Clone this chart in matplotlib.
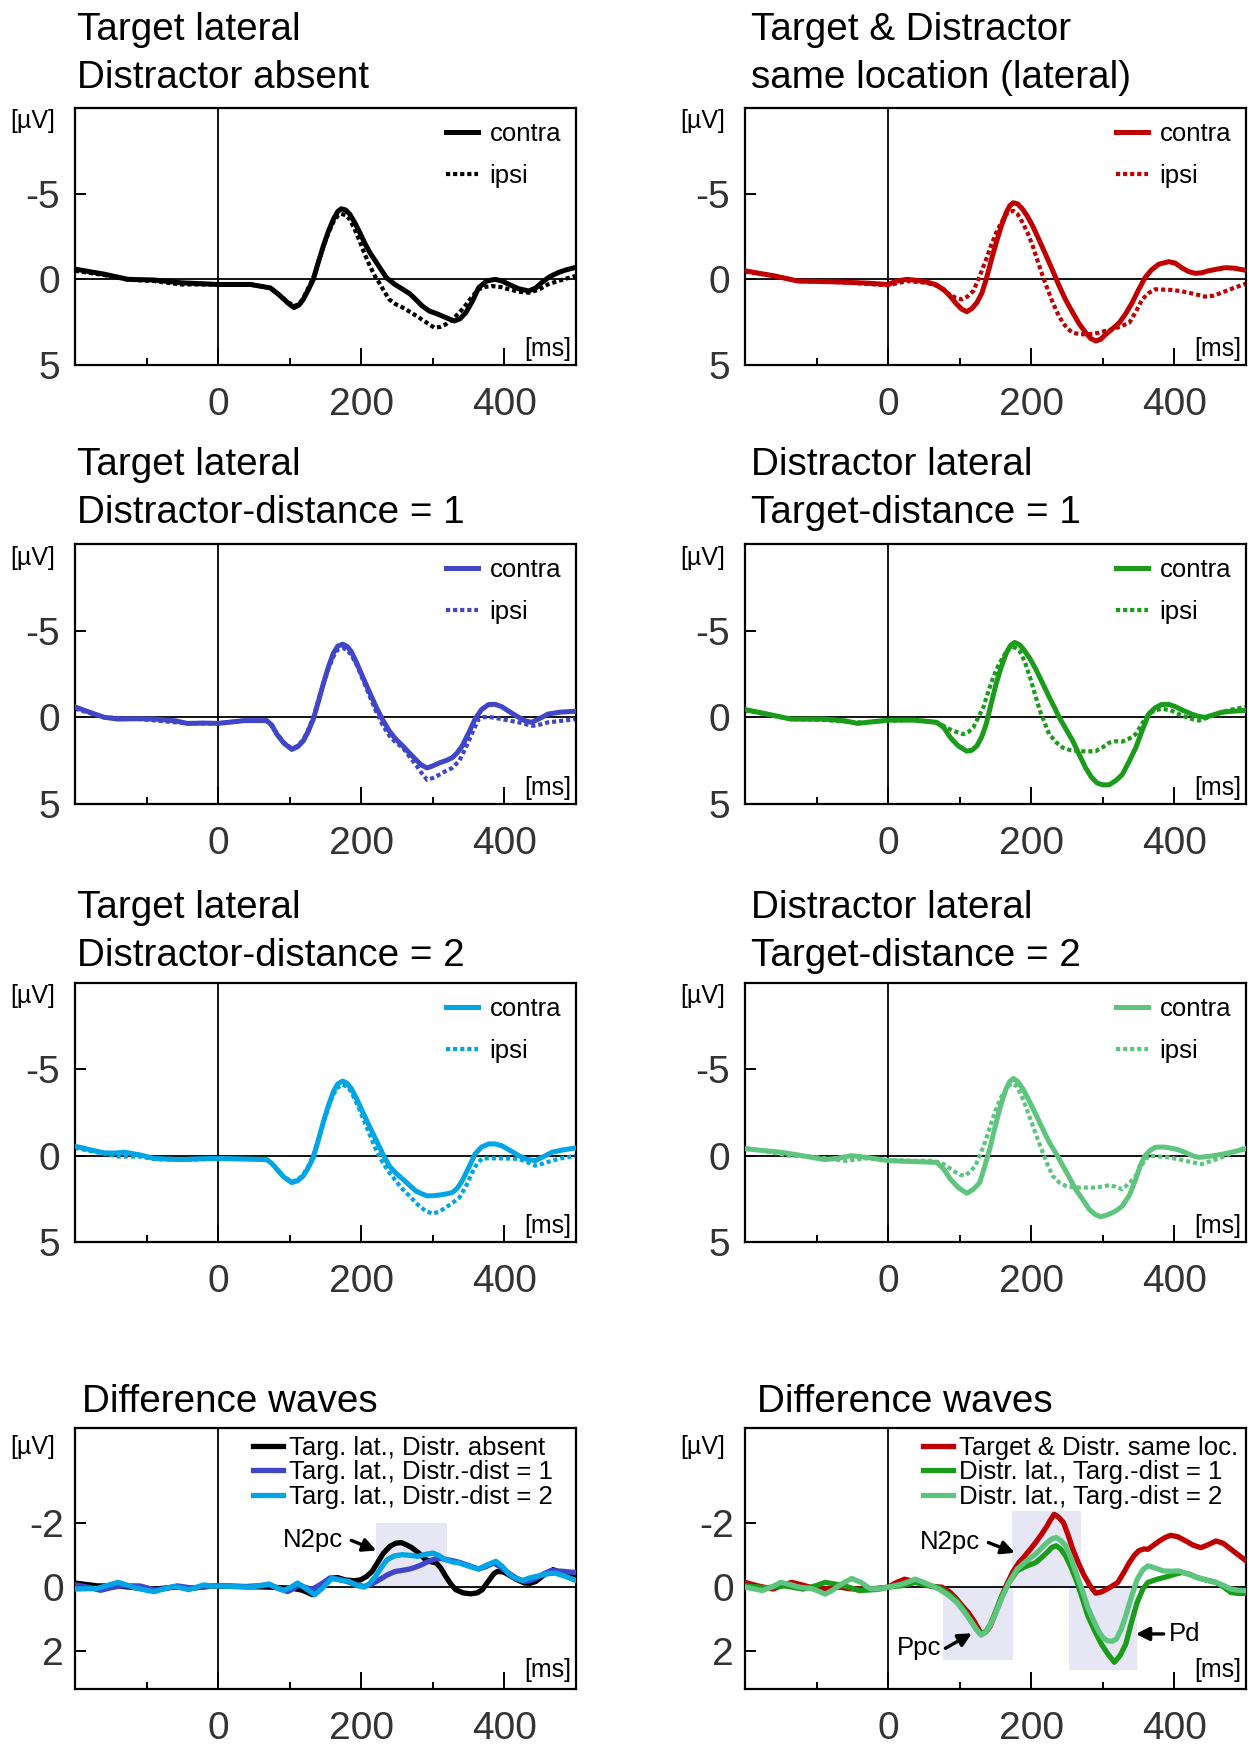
import numpy as np
import matplotlib.pyplot as plt

plt.rcParams['font.family'] = ['Liberation Sans', 'DejaVu Sans']
plt.rcParams['axes.unicode_minus'] = False

# ---- grand averages: (time in ms, amplitude in µV) ----
absent_contra = [(-200, -0.6), (-180, -0.45), (-159, -0.3), (-126, 0.0), (-89, 0.04), (-52, 0.2), (0, 0.3),
                 (45, 0.3), (73, 0.5), (85, 0.9), (98, 1.4), (106, 1.65), (113, 1.5), (119, 1.17), (126, 0.6),
                 (133, 0.0), (140, -1.0), (147, -1.95), (154, -2.8), (161, -3.5), (167, -3.95), (172, -4.12),
                 (178, -4.05), (184, -3.8), (191, -3.3), (198, -2.72), (205, -2.1), (212, -1.56), (224, -0.8),
                 (235, -0.1), (247, 0.3), (258, 0.58), (268, 0.85), (276, 1.17), (285, 1.55), (295, 1.85),
                 (305, 2.0), (313, 2.14), (322, 2.3), (330, 2.43), (338, 2.3), (346, 1.95), (355, 1.3),
                 (364, 0.49), (375, 0.1), (387, 0.0), (397, 0.1), (406, 0.29), (420, 0.55), (434, 0.68),
                 (444, 0.5), (452, 0.19), (463, -0.15), (475, -0.39), (486, -0.55), (500, -0.7)]
absent_ipsi = [(-200, -0.5), (-159, -0.25), (-126, 0.02), (-89, 0.1), (-52, 0.3), (0, 0.3), (45, 0.3),
               (73, 0.5), (85, 0.9), (98, 1.35), (106, 1.56), (113, 1.45), (119, 1.1), (126, 0.5), (133, -0.1),
               (140, -1.0), (147, -1.9), (154, -2.7), (161, -3.35), (167, -3.7), (172, -3.82), (178, -3.75),
               (184, -3.5), (191, -2.9), (198, -2.2), (205, -1.45), (212, -0.78), (219, -0.2), (225, 0.2),
               (232, 0.7), (239, 1.17), (248, 1.45), (258, 1.65), (270, 1.95), (281, 2.24), (292, 2.55),
               (302, 2.82), (310, 2.78), (318, 2.63), (328, 2.3), (337, 1.95), (346, 1.5), (355, 1.0),
               (364, 0.58), (372, 0.45), (382, 0.39), (395, 0.45), (406, 0.58), (420, 0.72), (434, 0.78),
               (448, 0.6), (461, 0.29), (475, 0.1), (487, -0.05), (500, -0.2)]

same_contra = [(-200, -0.5), (-180, -0.35), (-159, -0.2), (-126, 0.1), (-100, 0.12), (-66, 0.16), (-30, 0.22),
               (0, 0.3), (12, 0.1), (26, 0.0), (40, 0.06), (54, 0.16), (66, 0.3), (77, 0.58), (87, 1.0),
               (96, 1.46), (103, 1.75), (110, 1.89), (117, 1.7), (124, 1.36), (131, 0.8), (137, 0.0),
               (144, -1.1), (151, -2.14), (158, -3.1), (165, -3.89), (170, -4.3), (175, -4.47), (181, -4.4),
               (188, -4.09), (195, -3.65), (202, -3.11), (212, -2.2), (221, -1.36), (230, -0.5), (239, 0.39),
               (248, 1.2), (258, 1.95), (267, 2.6), (276, 3.11), (283, 3.45), (290, 3.6), (297, 3.5),
               (304, 3.21), (313, 2.9), (323, 2.53), (332, 2.0), (341, 1.36), (350, 0.6), (359, -0.1),
               (368, -0.55), (378, -0.88), (392, -1.03), (401, -0.95), (410, -0.68), (420, -0.45),
               (429, -0.35), (438, -0.38), (447, -0.49), (460, -0.6), (471, -0.68), (484, -0.65), (500, -0.52)]
same_ipsi = [(-200, -0.45), (-159, -0.2), (-126, 0.1), (-66, 0.16), (0, 0.35), (26, 0.1), (54, 0.2), (70, 0.4),
             (82, 0.78), (93, 1.05), (103, 1.17), (111, 1.0), (119, 0.68), (128, -0.2), (137, -1.17),
             (144, -2.0), (151, -2.72), (158, -3.3), (165, -3.8), (170, -3.95), (175, -3.99), (181, -3.8),
             (188, -3.3), (195, -2.7), (202, -1.95), (209, -1.05), (216, -0.19), (223, 0.6), (230, 1.36),
             (237, 2.0), (244, 2.53), (251, 2.9), (258, 3.11), (267, 3.2), (276, 3.21), (286, 3.18),
             (295, 3.11), (304, 3.0), (313, 2.92), (325, 2.75), (337, 2.53), (346, 1.9), (355, 1.17),
             (364, 0.8), (373, 0.58), (384, 0.6), (396, 0.62), (408, 0.68), (420, 0.78), (432, 0.9),
             (443, 1.01), (455, 0.95), (466, 0.78), (480, 0.55), (500, 0.25)]

tdist1_contra = [(-200, -0.6), (-180, -0.3), (-159, 0.0), (-140, 0.1), (-110, 0.08), (-89, 0.1), (-60, 0.2),
                 (-43, 0.35), (-20, 0.33), (0, 0.35), (36, 0.19), (68, 0.19), (75, 0.45), (82, 0.97),
                 (92, 1.5), (103, 1.85), (111, 1.7), (119, 1.36), (126, 0.8), (133, 0.1), (140, -0.9),
                 (147, -1.95), (154, -2.9), (161, -3.7), (167, -4.1), (174, -4.22), (180, -4.1), (186, -3.8),
                 (194, -3.1), (202, -2.33), (212, -1.4), (221, -0.58), (230, 0.15), (239, 0.78), (248, 1.25),
                 (258, 1.65), (267, 2.05), (276, 2.43), (284, 2.75), (292, 2.92), (300, 2.8), (309, 2.63),
                 (318, 2.5), (327, 2.33), (334, 2.05), (341, 1.65), (350, 0.9), (359, 0.1), (368, -0.45),
                 (378, -0.74), (387, -0.75), (396, -0.62), (408, -0.3), (420, 0.0), (429, 0.2), (438, 0.29),
                 (450, 0.05), (461, -0.19), (478, -0.3), (500, -0.35)]
tdist1_ipsi = [(-200, -0.5), (-159, 0.0), (-110, 0.1), (-43, 0.35), (0, 0.35), (36, 0.2), (68, 0.2), (75, 0.5),
               (82, 0.95), (92, 1.45), (103, 1.8), (111, 1.65), (119, 1.3), (126, 0.7), (133, 0.0),
               (140, -1.0), (147, -1.9), (154, -2.8), (161, -3.5), (167, -3.9), (174, -3.99), (180, -3.9),
               (186, -3.6), (194, -3.0), (202, -2.2), (212, -1.2), (221, -0.3), (230, 0.45), (239, 1.05),
               (248, 1.45), (258, 1.75), (267, 2.25), (276, 2.72), (284, 3.2), (292, 3.6), (300, 3.5),
               (309, 3.31), (318, 3.1), (327, 2.92), (337, 2.5), (346, 1.75), (355, 0.9), (364, 0.1),
               (372, -0.02), (382, 0.0), (396, 0.1), (408, 0.2), (420, 0.29), (430, 0.4), (440, 0.49),
               (452, 0.4), (461, 0.29), (480, 0.2), (500, 0.1)]

ddist1_contra = [(-200, -0.45), (-170, -0.2), (-136, 0.1), (-89, 0.1), (-60, 0.2), (-43, 0.35), (-20, 0.25),
                 (0, 0.16), (36, 0.16), (68, 0.29), (78, 0.6), (87, 1.17), (98, 1.65), (110, 1.95), (117, 1.9),
                 (124, 1.65), (131, 1.1), (137, 0.39), (144, -0.8), (151, -1.95), (158, -2.9), (165, -3.7),
                 (171, -4.15), (177, -4.32), (183, -4.2), (188, -3.99), (198, -3.4), (207, -2.72), (216, -1.95),
                 (225, -1.17), (232, -0.6), (239, 0.0), (248, 0.65), (258, 1.36), (267, 2.15), (276, 2.92),
                 (284, 3.45), (292, 3.79), (300, 3.9), (309, 3.89), (318, 3.65), (327, 3.31), (336, 2.6),
                 (346, 1.75), (355, 0.75), (364, -0.19), (373, -0.55), (382, -0.74), (392, -0.75),
                 (401, -0.62), (412, -0.4), (424, -0.19), (434, -0.05), (443, 0.0), (455, -0.15),
                 (466, -0.29), (480, -0.35), (500, -0.4)]
ddist1_ipsi = [(-200, -0.4), (-136, 0.1), (-89, 0.15), (-43, 0.3), (0, 0.2), (36, 0.15), (60, 0.25), (73, 0.39),
               (82, 0.6), (91, 0.78), (105, 0.97), (112, 0.85), (119, 0.58), (126, 0.0), (133, -0.58),
               (140, -1.5), (147, -2.33), (154, -3.0), (161, -3.5), (167, -3.9), (172, -4.09), (178, -4.0),
               (184, -3.8), (191, -3.2), (198, -2.33), (205, -1.35), (212, -0.39), (219, 0.35), (225, 0.97),
               (235, 1.45), (244, 1.75), (255, 1.9), (267, 1.95), (278, 1.97), (290, 1.95), (300, 1.72),
               (309, 1.46), (318, 1.38), (327, 1.4), (336, 1.25), (346, 0.97), (355, 0.35), (364, -0.19),
               (373, -0.4), (382, -0.49), (394, -0.42), (406, -0.19), (420, 0.05), (434, 0.19), (448, 0.0),
               (461, -0.23), (480, -0.45), (500, -0.6)]

tdist2_contra = [(-200, -0.55), (-180, -0.35), (-159, -0.16), (-145, -0.15), (-131, -0.2), (-110, -0.05),
                 (-89, 0.16), (-70, 0.2), (-52, 0.23), (-25, 0.18), (0, 0.16), (40, 0.2), (68, 0.23), (75, 0.45),
                 (82, 0.78), (92, 1.25), (103, 1.56), (111, 1.45), (119, 1.17), (126, 0.7), (133, 0.1),
                 (140, -0.9), (147, -1.95), (154, -2.9), (161, -3.7), (167, -4.15), (174, -4.32), (180, -4.2),
                 (186, -3.89), (194, -3.25), (202, -2.53), (212, -1.65), (221, -0.88), (230, -0.1), (239, 0.58),
                 (248, 1.0), (258, 1.36), (267, 1.7), (276, 2.04), (284, 2.2), (292, 2.33), (300, 2.32),
                 (309, 2.28), (318, 2.22), (327, 2.14), (334, 1.9), (341, 1.46), (350, 0.7), (359, -0.1),
                 (368, -0.5), (378, -0.68), (387, -0.68), (396, -0.58), (408, -0.3), (420, 0.0), (430, 0.2),
                 (443, 0.29), (455, 0.05), (466, -0.19), (480, -0.32), (500, -0.45)]
tdist2_ipsi = [(-200, -0.45), (-170, -0.2), (-140, 0.05), (-110, 0.05), (-89, 0.2), (-52, 0.25), (0, 0.18),
               (40, 0.2), (68, 0.25), (75, 0.45), (82, 0.78), (92, 1.25), (103, 1.5), (111, 1.4), (119, 1.1),
               (126, 0.6), (133, 0.0), (140, -0.95), (147, -1.9), (154, -2.8), (161, -3.55), (167, -3.95),
               (174, -4.1), (180, -4.0), (186, -3.7), (194, -3.0), (202, -2.2), (212, -1.2), (221, -0.3),
               (230, 0.4), (239, 0.97), (248, 1.45), (258, 1.95), (270, 2.45), (281, 2.92), (290, 3.2),
               (299, 3.35), (309, 3.25), (318, 3.0), (327, 2.75), (337, 2.43), (346, 1.8), (355, 0.97),
               (362, 0.45), (369, 0.16), (382, 0.15), (396, 0.16), (408, 0.17), (420, 0.19), (432, 0.38),
               (443, 0.58), (455, 0.45), (466, 0.29), (480, 0.15), (500, 0.0)]

ddist2_contra = [(-200, -0.4), (-175, -0.3), (-150, -0.2), (-120, 0.0), (-89, 0.23), (-70, 0.15), (-52, 0.0),
                 (-30, 0.1), (0, 0.29), (40, 0.35), (68, 0.39), (78, 0.8), (87, 1.36), (98, 1.85), (110, 2.18),
                 (119, 1.95), (128, 1.56), (135, 0.6), (142, -0.39), (149, -1.6), (156, -2.72), (161, -3.4),
                 (165, -3.89), (170, -4.3), (175, -4.47), (181, -4.3), (188, -3.89), (198, -3.1), (207, -2.33),
                 (216, -1.55), (225, -0.78), (235, -0.1), (244, 0.58), (253, 1.25), (262, 1.95), (272, 2.55),
                 (281, 3.11), (289, 3.4), (297, 3.54), (305, 3.45), (313, 3.31), (320, 3.15), (327, 2.92),
                 (337, 2.3), (346, 1.36), (352, 0.6), (359, 0.0), (366, -0.3), (373, -0.49), (385, -0.5),
                 (396, -0.43), (405, -0.35), (415, -0.19), (425, 0.0), (434, 0.1), (447, 0.05), (461, -0.04),
                 (480, -0.2), (500, -0.4)]
ddist2_ipsi = [(-200, -0.45), (-170, -0.25), (-140, 0.0), (-110, 0.05), (-89, 0.15), (-60, 0.3), (-30, 0.15),
               (0, 0.25), (40, 0.3), (60, 0.3), (73, 0.39), (82, 0.6), (91, 0.88), (100, 1.1), (107, 1.17),
               (114, 0.95), (122, 0.58), (130, -0.2), (137, -0.97), (144, -1.9), (151, -2.72), (158, -3.4),
               (165, -3.89), (170, -4.1), (174, -4.18), (180, -4.0), (188, -3.31), (195, -2.55), (202, -1.75),
               (209, -0.95), (216, -0.19), (223, 0.55), (230, 1.17), (239, 1.55), (248, 1.75), (258, 1.82),
               (267, 1.85), (278, 1.85), (290, 1.85), (300, 1.78), (309, 1.71), (318, 1.8), (327, 1.95),
               (337, 1.6), (346, 1.17), (355, 0.5), (364, 0.0), (378, 0.05), (392, 0.1), (405, 0.2),
               (415, 0.29), (427, 0.4), (438, 0.49), (452, 0.3), (466, 0.1), (480, -0.15), (500, -0.5)]

# ---- contra minus ipsi difference waves ----
diff_absent = [(-200, -0.13), (-169, -0.04), (-142, -0.04), (-115, 0.02), (-89, 0.06), (-60, 0.0), (-36, 0.03),
               (-15, -0.02), (0, -0.04), (30, -0.02), (71, 0.0), (103, 0.03), (118, 0.1), (132, 0.24),
               (144, 0.05), (156, -0.28), (167, -0.3), (177, -0.23), (190, -0.2), (199, -0.23), (207, -0.33),
               (215, -0.49), (223, -0.78), (231, -1.07), (240, -1.28), (248, -1.38), (256, -1.4), (263, -1.33),
               (270, -1.25), (280, -1.08), (289, -0.88), (297, -0.8), (305, -0.76), (311, -0.6), (318, -0.34),
               (325, -0.1), (332, 0.08), (342, 0.18), (353, 0.21), (362, 0.18), (369, 0.08), (378, -0.2),
               (385, -0.42), (390, -0.49), (398, -0.48), (406, -0.39), (416, -0.25), (428, -0.13),
               (436, -0.12), (444, -0.18), (455, -0.38), (468, -0.55), (480, -0.45), (490, -0.35), (500, -0.28)]
diff_tdist1 = [(-200, -0.07), (-182, 0.0), (-164, 0.1), (-150, 0.02), (-135, -0.04), (-110, -0.04), (-89, 0.08),
               (-75, 0.05), (-57, -0.04), (-36, 0.03), (-15, -0.02), (0, -0.04), (39, -0.02), (71, -0.07),
               (85, 0.05), (97, 0.14), (105, 0.05), (113, -0.07), (123, 0.02), (132, 0.06), (144, -0.1),
               (156, -0.28), (167, -0.25), (177, -0.2), (190, -0.1), (204, -0.02), (215, -0.1), (225, -0.23),
               (236, -0.38), (247, -0.49), (258, -0.53), (268, -0.57), (276, -0.63), (284, -0.7), (293, -0.8),
               (302, -0.88), (311, -0.9), (321, -0.86), (330, -0.82), (337, -0.78), (350, -0.68), (364, -0.57),
               (375, -0.65), (385, -0.76), (395, -0.62), (406, -0.44), (417, -0.28), (428, -0.18), (436, -0.2),
               (444, -0.28), (455, -0.42), (465, -0.52), (480, -0.5), (500, -0.46)]
diff_tdist2 = [(-200, 0.06), (-169, 0.04), (-155, -0.05), (-140, -0.15), (-128, -0.07), (-116, 0.02), (-100, 0.1),
               (-89, 0.14), (-75, 0.05), (-62, -0.02), (-50, 0.03), (-41, 0.08), (-30, 0.0), (-20, -0.07),
               (-8, -0.03), (0, -0.04), (20, -0.02), (44, 0.0), (60, -0.05), (71, -0.1), (82, 0.02), (92, 0.1),
               (102, 0.0), (111, -0.13), (123, 0.05), (135, 0.24), (147, 0.0), (159, -0.28), (171, -0.22),
               (183, -0.18), (194, -0.05), (204, 0.0), (212, -0.12), (220, -0.34), (228, -0.62), (236, -0.86),
               (246, -0.98), (257, -1.02), (268, -1.0), (279, -0.97), (290, -1.03), (300, -1.07), (308, -1.0),
               (316, -0.88), (326, -0.8), (337, -0.76), (350, -0.66), (364, -0.57), (376, -0.7), (388, -0.81),
               (397, -0.65), (406, -0.42), (415, -0.28), (425, -0.21), (437, -0.3), (449, -0.36), (460, -0.42),
               (471, -0.44), (485, -0.34), (500, -0.21)]

diff_same = [(-200, -0.15), (-182, -0.04), (-161, 0.06), (-148, -0.05), (-135, -0.15), (-122, -0.08), (-109, 0.0),
             (-88, 0.06), (-67, 0.0), (-54, 0.05), (-40, 0.06), (-17, 0.04), (0, 0.0), (12, -0.15), (23, -0.25),
             (36, -0.18), (49, -0.1), (62, -0.02), (75, 0.0), (86, 0.15), (96, 0.38), (104, 0.6), (112, 0.8),
             (121, 1.1), (130, 1.47), (137, 1.4), (143, 1.21), (151, 0.75), (159, 0.27), (167, -0.15),
             (175, -0.51), (183, -0.78), (191, -0.98), (199, -1.2), (206, -1.4), (214, -1.65), (222, -1.92),
             (227, -2.12), (232, -2.29), (238, -2.2), (245, -2.03), (252, -1.6), (258, -1.19), (266, -0.75),
             (274, -0.36), (282, -0.05), (290, 0.19), (298, 0.15), (306, 0.06), (314, -0.05), (321, -0.15),
             (329, -0.45), (337, -0.77), (344, -1.0), (350, -1.14), (357, -1.2), (363, -1.19), (371, -1.32),
             (379, -1.45), (387, -1.56), (395, -1.63), (405, -1.58), (416, -1.45), (426, -1.32), (437, -1.24),
             (447, -1.33), (458, -1.45), (468, -1.38), (479, -1.19), (490, -1.0), (500, -0.83)]
diff_ddist1 = [(-200, -0.04), (-171, 0.02), (-145, -0.04), (-119, 0.06), (-100, -0.05), (-88, -0.15), (-75, -0.1),
               (-61, -0.04), (-40, 0.11), (-14, 0.07), (0, 0.0), (20, -0.05), (38, -0.15), (55, -0.05), (70, 0.0),
               (84, 0.2), (96, 0.43), (107, 0.75), (117, 1.11), (124, 1.35), (130, 1.47), (137, 1.38),
               (143, 1.16), (151, 0.72), (159, 0.27), (169, -0.15), (180, -0.51), (192, -0.65), (206, -0.77),
               (214, -0.92), (222, -1.09), (229, -1.25), (235, -1.3), (241, -1.2), (248, -0.98), (256, -0.6),
               (264, -0.15), (272, 0.4), (279, 0.9), (288, 1.35), (298, 1.79), (307, 2.1), (316, 2.36),
               (324, 2.15), (332, 1.79), (340, 1.1), (348, 0.48), (356, 0.05), (363, -0.15), (376, -0.25),
               (390, -0.33), (400, -0.4), (411, -0.46), (422, -0.4), (432, -0.3), (445, -0.22), (458, -0.15),
               (469, 0.0), (479, 0.17), (490, 0.2), (500, 0.19)]
diff_ddist2 = [(-200, 0.0), (-188, 0.05), (-176, 0.11), (-163, 0.0), (-150, -0.15), (-137, -0.08), (-124, 0.0),
               (-106, 0.05), (-95, 0.15), (-88, 0.22), (-78, 0.1), (-65, -0.1), (-51, -0.27), (-38, -0.15),
               (-25, 0.05), (-12, 0.05), (0, 0.0), (20, -0.1), (38, -0.25), (55, -0.1), (70, 0.05), (84, 0.25),
               (96, 0.48), (107, 0.8), (117, 1.11), (124, 1.35), (130, 1.51), (137, 1.4), (143, 1.18),
               (151, 0.78), (159, 0.33), (169, -0.15), (180, -0.56), (192, -0.8), (206, -1.04), (214, -1.22),
               (222, -1.4), (229, -1.52), (235, -1.56), (241, -1.47), (248, -1.3), (256, -0.88), (264, -0.36),
               (272, 0.15), (279, 0.64), (287, 1.05), (295, 1.42), (300, 1.58), (306, 1.68), (313, 1.7),
               (319, 1.63), (326, 1.3), (332, 0.9), (340, 0.3), (348, -0.25), (356, -0.55), (363, -0.67),
               (373, -0.6), (384, -0.51), (395, -0.5), (406, -0.51), (418, -0.42), (432, -0.3), (445, -0.22),
               (458, -0.15), (469, -0.05), (479, 0.06), (490, 0.1), (500, 0.11)]

# analysis windows (start ms, end ms, amplitude from, amplitude to)
windows_left = [(220, 320, -2.0, 0.0)]
windows_right = [(77, 175, 0.0, 2.3), (173, 270, -2.4, 0.0), (252, 348, 0.0, 2.6)]

C_BLACK, C_RED, C_BLUE = '#000000', '#c00000', '#4146c9'
C_LBLUE, C_GREEN, C_LGREEN = '#00a5e5', '#1a9c1a', '#5ec57e'
WIN_COLOR = '#e6e6f4'

W, H = 1249, 1746
fig = plt.figure(figsize=(W / 100, H / 100), dpi=100)

COLS = [(75, 576), (745, 1246)]
ROWS = [(108, 365), (544, 804), (983, 1242), (1428, 1689)]
TITLE_X = [(77, 751), (77, 751), (77, 751), (82, 757)]
TITLE_BASE = [88, 523, 966, 1412]   # baseline of the last title line, px from top


def add_panel(col, row):
    x0, x1 = COLS[col]
    y0, y1 = ROWS[row]
    return fig.add_axes([x0 / W, 1 - y1 / H, (x1 - x0) / W, (y1 - y0) / H])


def title(col, row, lines):
    base = TITLE_BASE[row] - 48 * (len(lines) - 1)
    for i, s in enumerate(lines):
        fig.text(TITLE_X[row][col] / W, 1 - (base + 48 * i) / H, s,
                 fontsize=27.8, ha='left', va='baseline')


def style(ax, ylim, yticks, ypad, uv_y, ms_y):
    ax.set_xlim(-200, 500)
    ax.set_ylim(*ylim)
    ax.axhline(0, color='black', lw=1.3, zorder=1)
    ax.axvline(0, color='black', lw=1.3, zorder=1)
    ax.set_xticks([0, 200, 400])
    ax.set_xticks([-100, 100, 300], minor=True)
    ax.set_yticks(yticks)
    ax.set_yticklabels([f'{v:g}' for v in yticks])
    ax.tick_params(axis='x', which='major', direction='in', length=12, width=1.4,
                   labelsize=28, labelcolor='#333333', pad=16)
    ax.tick_params(axis='x', which='minor', direction='in', length=5, width=1.4)
    ax.tick_params(axis='y', direction='in', length=8, width=1.4,
                   labelsize=28, labelcolor='#333333', pad=ypad)
    for s in ax.spines.values():
        s.set_linewidth(1.6)
    ax.text(-0.04, uv_y, '[µV]', transform=ax.transAxes, ha='right', va='center', fontsize=18)
    ax.text(0.99, ms_y, '[ms]', transform=ax.transAxes, ha='right', va='center', fontsize=18)


erp_panels = [
    (0, 0, ['Target lateral', 'Distractor absent'], absent_contra, absent_ipsi, C_BLACK),
    (1, 0, ['Target & Distractor', 'same location (lateral)'], same_contra, same_ipsi, C_RED),
    (0, 1, ['Target lateral', 'Distractor-distance = 1'], tdist1_contra, tdist1_ipsi, C_BLUE),
    (1, 1, ['Distractor lateral', 'Target-distance = 1'], ddist1_contra, ddist1_ipsi, C_GREEN),
    (0, 2, ['Target lateral', 'Distractor-distance = 2'], tdist2_contra, tdist2_ipsi, C_LBLUE),
    (1, 2, ['Distractor lateral', 'Target-distance = 2'], ddist2_contra, ddist2_ipsi, C_LGREEN),
]

for col, row, lines, contra, ipsi, color in erp_panels:
    ax = add_panel(col, row)
    style(ax, (5, -10), [-5, 0, 5], 11, 0.948, 0.062)
    title(col, row, lines)
    t, v = np.array(contra).T
    ax.plot(t, v, color=color, lw=3.6, label='contra', zorder=3)
    t, v = np.array(ipsi).T
    ax.plot(t, v, color=color, lw=3.0, ls=(0, (1, 0.7)), label='ipsi', zorder=2)
    ax.legend(loc='upper left', bbox_to_anchor=(0.74, 0.946), frameon=False, fontsize=18.5,
              handlelength=1.25, handletextpad=0.45, borderpad=0, borderaxespad=0, labelspacing=0.7)

diff_panels = [
    (0, [diff_absent, diff_tdist1, diff_tdist2], [C_BLACK, C_BLUE, C_LBLUE],
     ['Targ. lat., Distr. absent', 'Targ. lat., Distr.-dist = 1', 'Targ. lat., Distr.-dist = 2'],
     windows_left,
     [('N2pc', (174, -1.47), 'right', (186, -1.47), (221, -1.15))]),
    (1, [diff_same, diff_ddist1, diff_ddist2], [C_RED, C_GREEN, C_LGREEN],
     ['Target & Distr. same loc.', 'Distr. lat., Targ.-dist = 1', 'Distr. lat., Targ.-dist = 2'],
     windows_right,
     [('N2pc', (129, -1.43), 'right', (140, -1.4), (177, -1.08)),
      ('Ppc', (74, 1.92), 'right', (80, 1.92), (117, 1.45)),
      ('Pd', (392, 1.47), 'left', (385, 1.47), (346, 1.47))]),
]

for col, waves, colors, labels, windows, notes in diff_panels:
    ax = add_panel(col, 3)
    style(ax, (3.2, -5), [-2, 0, 2], 8, 0.926, 0.074)
    title(col, 3, ['Difference waves'])
    for t0, t1, a0, a1 in windows:
        ax.fill_between([t0, t1], a0, a1, color=WIN_COLOR, lw=0, zorder=0)
    for wave, c, lab in zip(waves, colors, labels):
        t, v = np.array(wave).T
        ax.plot(t, v, color=c, lw=3.8, label=lab, zorder=3)
    ax.legend(loc='upper left', bbox_to_anchor=(0.356, 0.97), frameon=False, fontsize=18.5,
              handlelength=1.15, handletextpad=0.25, borderpad=0, borderaxespad=0, labelspacing=0.02)
    for text, pos, ha, tail, head in notes:
        ax.text(pos[0], pos[1], text, ha=ha, va='center', fontsize=18.5, zorder=4)
        ax.annotate('', xy=head, xytext=tail,
                    arrowprops=dict(arrowstyle='-|>', color='black', lw=2.4, mutation_scale=20,
                                    shrinkA=0, shrinkB=0), zorder=4)

fig.savefig('out.png', dpi=100)
